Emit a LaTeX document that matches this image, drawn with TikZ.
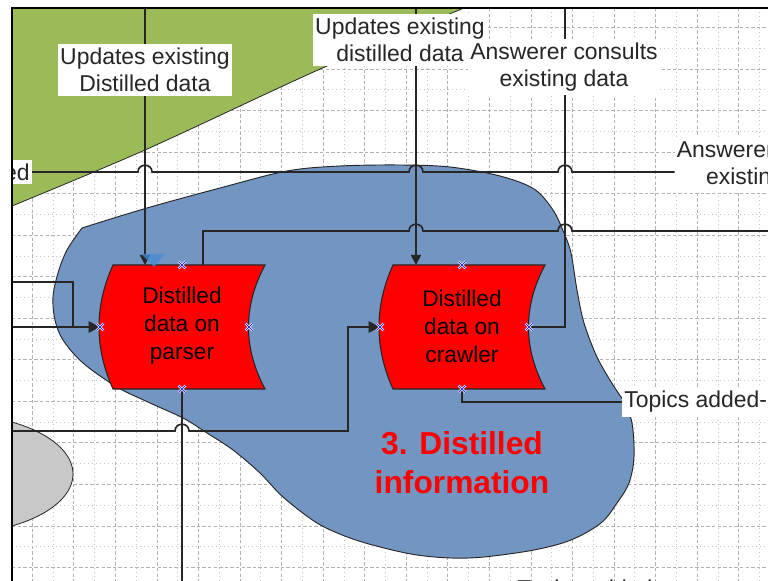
\documentclass[tikz,border=0pt]{standalone}
\usepackage{fontspec}
\setmainfont{Liberation Sans}
\usetikzlibrary{arrows.meta}

\definecolor{blobblue}{RGB}{115,149,193}
\definecolor{leafgreen}{RGB}{155,187,89}
\definecolor{ink}{RGB}{38,38,38}
\definecolor{gridmaj}{RGB}{178,178,178}
\definecolor{gridmin}{RGB}{196,196,196}
\definecolor{ovalgray}{RGB}{200,200,200}
\definecolor{markblue}{RGB}{40,40,235}
\definecolor{pinblue}{RGB}{70,140,215}

\tikzset{
  conn/.style={draw=ink, line width=1.25pt},
  tipped/.style={-{Triangle[length=8.5pt,width=8.5pt]}},
  smalltip/.style={-{Triangle[length=7.5pt,width=7.5pt]}},
  lbl/.style={fill=white, inner xsep=1.5pt, inner ysep=3pt, align=center, text=ink,
              font=\fontsize{17.2}{20.3}\selectfont},
  datatext/.style={align=center, text=black, font=\fontsize{17}{21}\selectfont},
  bigtext/.style={align=center, text=red, font=\bfseries\fontsize{23.8}{29.2}\selectfont},
  gridmajor/.style={draw=gridmaj, line width=0.55pt, dash pattern=on 2.6pt off 1.6pt},
  gridminor/.style={draw=gridmin, line width=0.55pt, dash pattern=on 0.8pt off 2.2pt},
  storedata/.pic={
    \filldraw[fill=red, draw=ink, line width=0.8pt]
      (-69,-62) -- (83,-62) .. controls (61,-20.7) and (61,20.7) .. (83,62)
      -- (-69,62) .. controls (-87.7,20.7) and (-87.7,-20.7) .. (-69,-62) -- cycle;
  },
  cpoint/.pic={
    \draw[white, line width=1.7pt] (-3.5,-3.5) -- (3.5,3.5) (-3.5,3.5) -- (3.5,-3.5);
    \draw[markblue, line width=0.7pt] (-3.5,-3.5) -- (3.5,3.5) (-3.5,3.5) -- (3.5,-3.5);
  }
}

\begin{document}
\begin{tikzpicture}[x=0.75pt,y=-0.75pt]
\useasboundingbox (0,0) rectangle (768,581);
\fill[white] (0,0) rectangle (768,581);

\begin{scope}
\clip (12,8) rectangle (768,581);

% page grid
\foreach \k in {0,...,17}
  \draw[gridmajor] ({32.3+41.55*\k},8) -- ({32.3+41.55*\k},581);
\foreach \k in {-1,...,17}
  \draw[gridminor] ({53.08+41.55*\k},8) -- ({53.08+41.55*\k},581);
\foreach \k in {-4,...,10}
  \draw[gridmajor] (12,{152+41.55*\k}) -- (768,{152+41.55*\k});
\foreach \k in {-4,...,10}
  \draw[gridminor] (12,{172.78+41.55*\k}) -- (768,{172.78+41.55*\k});

% green region in the upper left
\fill[leafgreen] (12,8) -- (464,8) -- plot[smooth, tension=0.5] coordinates {(464,8) (318,70) (145,150) (12,206)} -- cycle;
\draw[ink, line width=0.6pt] plot[smooth, tension=0.5] coordinates {(464,8) (318,70) (145,150) (12,206)};

% distilled information area
\filldraw[fill=blobblue, draw=ink, line width=0.7pt]
  plot[smooth, tension=0.55] coordinates {
    (82,228) (147,208) (220,188) (287,171) (340,166) (400,165) (450,167)
    (500,176) (534,189) (553,210) (564,233) (571,253) (577,290) (584,323)
    (597,357) (613,385) (624,402) (632,423) (634,457) (629,483) (617,503)
    (601,523) (571,540) (534,550) (484,557) (451,558) (417,555) (384,548)
    (350,538) (317,523) (283,497) (260,473) (233,450) (207,433) (183,418)
    (150,403) (117,387) (83,363) (63,340) (55,320) (53,297) (58,273)
    (67,250) (82,228)} -- cycle;

% gray oval at the left edge
\filldraw[fill=ovalgray, draw=ink, line width=0.6pt] (-49,474) ellipse [x radius=122, y radius=60];

% anchor points of the connectors
\coordinate (topA) at (145,8);
\coordinate (topB) at (416,8);
\coordinate (topC) at (565,8);
\coordinate (pIn) at (145,265);
\coordinate (pOut) at (203,265);
\coordinate (pL) at (100,327);
\coordinate (pB) at (182,389);
\coordinate (cIn) at (416,265);
\coordinate (cL) at (380,327);
\coordinate (cR) at (529,327);
\coordinate (cB) at (462,389);
\coordinate (leftA) at (12,282);
\coordinate (leftB) at (12,327);
\coordinate (leftC) at (12,431);
\coordinate (joinL) at (73,327);
\coordinate (rightB) at (768,231);
\coordinate (bottomA) at (182,581);

% labels placed first so their names can be used by connectors
\node[lbl, anchor=east] (edTail) at (32,172) {ed};
\node[lbl] (consRight) at (770.5,165) {Answerer consults\\existing data};
\node[lbl, anchor=west] (topicsR) at (622,402) {Topics added-};

% connectors
\draw[conn, smalltip] (topA) -- (pIn);
\draw[conn, smalltip] (topB) -- (cIn);
\draw[conn] (topC) |- (cR);
\draw[conn] (edTail.east) -- (138,172) .. controls (138,163) and (152,163) .. (152,172)
  -- (409,172) .. controls (409,163) and (423,163) .. (423,172)
  -- (558,172) .. controls (558,163) and (572,163) .. (572,172)
  -- (consRight.west |- edTail.east);
\draw[conn] (pOut) -- (203,231)
  -- (409,231) .. controls (409,222) and (423,222) .. (423,231)
  -- (558,231) .. controls (558,222) and (572,222) .. (572,231)
  -- (rightB);
\draw[conn] (leftA) -| (joinL);
\draw[conn, tipped] (leftB) -- (pL);
\draw[conn, tipped] (leftC) -- (175,431) .. controls (175,422) and (189,422) .. (189,431)
  -- (348,431) |- (cL);
\draw[conn] (pB) -- (bottomA);
\draw[conn] (cB) |- (topicsR.west);

% stored data shapes
\pic at (182,327) {storedata};
\pic at (462,327) {storedata};
\node[datatext] (parser) at (182,326) {Distilled\\data on\\parser};
\node[datatext] (crawler) at (462,326) {Distilled\\data on\\crawler};

% connection point markers
\foreach \p in {(182,265),(100,327),(249,327),(182,389),(462,265),(380,327),(529,327),(462,389)}
  \pic at \p {cpoint};
\fill[pinblue, opacity=0.75] (141,254) -- (165,254) -- (154,267) -- cycle;

% remaining labels
\node[lbl] (udLeft) at (145,70) {Updates existing\\Distilled data};
\node[lbl] (udMid) at (400,40) {Updates existing\\distilled data};
\node[lbl] (consMid) at (564,67) {Answerer consults\\existing data};
\node[lbl, fill=none, anchor=base west] (topicsB) at (515,596) {Topics added};
\node[bigtext] (distInfo) at (462,463) {3. Distilled\\information};
\end{scope}

% page frame
\draw[black, line width=1.2pt] (768,8) -- (12,8) -- (12,581);
\end{tikzpicture}
\end{document}
